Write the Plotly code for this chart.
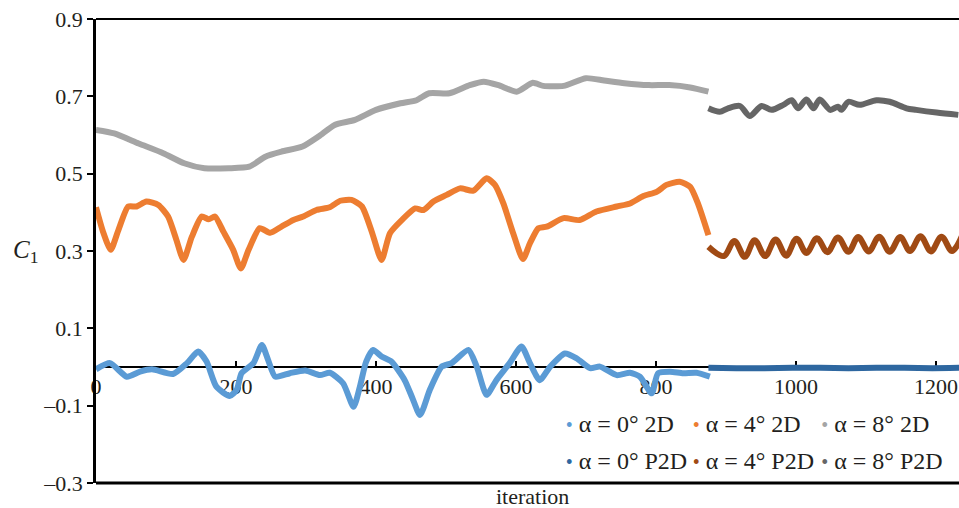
import plotly.graph_objects as go

# ---- series data: lift coefficient C1 versus iteration ----
it_0_2d = [0, 20, 44, 63, 80, 110, 130, 146, 158, 172, 191, 201, 208, 225,
           237, 246, 256, 277, 299, 320, 334, 353, 368, 377, 386, 396, 408,
           422, 441, 452, 463, 477, 494, 508, 532, 544, 558, 572, 591, 608,
           620, 634, 649, 670, 687, 706, 720, 744, 763, 777, 794, 803, 820,
           839, 858, 877]
c1_0_2d = [-0.006, 0.010, -0.025, -0.012, -0.006, -0.018, 0.010, 0.040, 0.014,
           -0.051, -0.075, -0.059, -0.016, 0.010, 0.057, 0.018, -0.025, -0.016,
           -0.009, -0.021, -0.015, -0.042, -0.103, -0.051, 0.014, 0.044, 0.027,
           0.014, -0.034, -0.080, -0.124, -0.059, 0.001, 0.010, 0.044, 0.001,
           -0.072, -0.034, 0.010, 0.053, 0.010, -0.034, 0.001, 0.035, 0.022,
           -0.003, 0.001, -0.021, -0.015, -0.025, -0.068, -0.016, -0.012,
           -0.016, -0.015, -0.025]

it_0_p2d = [875, 915, 955, 995, 1035, 1075, 1115, 1155, 1195, 1235]
c1_0_p2d = [-0.002, -0.003, -0.003, -0.002, -0.002, -0.003, -0.002, -0.002,
            -0.003, -0.002]

it_4_2d = [0, 10, 21, 32, 46, 58, 72, 89, 103, 115, 125, 137, 151, 161, 170,
           182, 196, 207, 218, 234, 249, 265, 282, 296, 315, 334, 349, 365,
           380, 394, 408, 420, 437, 456, 468, 482, 501, 520, 539, 558, 570,
           582, 596, 610, 620, 632, 644, 668, 691, 715, 744, 763, 782, 801,
           815, 834, 849, 860, 875]
c1_4_2d = [0.413, 0.350, 0.303, 0.354, 0.415, 0.415, 0.428, 0.419, 0.389,
           0.328, 0.277, 0.337, 0.389, 0.382, 0.389, 0.350, 0.303, 0.255,
           0.303, 0.359, 0.347, 0.363, 0.380, 0.389, 0.406, 0.413, 0.430,
           0.432, 0.415, 0.350, 0.277, 0.346, 0.380, 0.410, 0.406, 0.428,
           0.445, 0.462, 0.456, 0.488, 0.471, 0.423, 0.346, 0.279, 0.320,
           0.359, 0.363, 0.385, 0.380, 0.402, 0.415, 0.423, 0.442, 0.453,
           0.471, 0.479, 0.466, 0.423, 0.341]

it_4_p2d = [875, 897, 912, 927, 941, 956, 971, 986, 1001, 1015, 1030, 1045,
            1060, 1075, 1089, 1104, 1119, 1134, 1149, 1163, 1178, 1193, 1208,
            1223, 1237]
c1_4_p2d = [0.311, 0.287, 0.326, 0.285, 0.328, 0.287, 0.330, 0.288, 0.332,
            0.295, 0.333, 0.297, 0.335, 0.298, 0.336, 0.299, 0.337, 0.298,
            0.336, 0.300, 0.338, 0.299, 0.337, 0.300, 0.338]

it_8_2d = [0, 26, 61, 96, 126, 155, 190, 219, 242, 265, 295, 318, 341, 370,
           400, 435, 458, 476, 505, 534, 554, 575, 601, 624, 639, 668, 700,
           726, 755, 790, 819, 849, 875]
c1_8_2d = [0.613, 0.604, 0.578, 0.553, 0.527, 0.514, 0.514, 0.518, 0.544,
           0.557, 0.570, 0.596, 0.626, 0.639, 0.665, 0.682, 0.690, 0.708,
           0.708, 0.729, 0.738, 0.729, 0.712, 0.735, 0.727, 0.727, 0.747,
           0.741, 0.734, 0.729, 0.729, 0.723, 0.712]

it_8_p2d = [875, 891, 903, 920, 934, 951, 965, 982, 994, 1003, 1015, 1025,
            1034, 1049, 1060, 1065, 1075, 1091, 1115, 1134, 1158, 1172, 1201,
            1232]
c1_8_p2d = [0.669, 0.660, 0.669, 0.675, 0.649, 0.675, 0.665, 0.678, 0.690,
            0.669, 0.692, 0.669, 0.692, 0.665, 0.673, 0.665, 0.686, 0.678,
            0.690, 0.686, 0.669, 0.665, 0.658, 0.652]

x_ticks = [0, 200, 400, 600, 800, 1000, 1200]
y_ticks = [-0.3, -0.1, 0.1, 0.3, 0.5, 0.7, 0.9]
y_tick_text = ["\u20130.3", "\u20130.1", "0.1", "0.3", "0.5", "0.7", "0.9"]

series_names = ["\u03b1 = 0\u00b0 2D", "\u03b1 = 4\u00b0 2D", "\u03b1 = 8\u00b0 2D",
                "\u03b1 = 0\u00b0 P2D", "\u03b1 = 4\u00b0 P2D", "\u03b1 = 8\u00b0 P2D"]
series_x = [it_0_2d, it_4_2d, it_8_2d, it_0_p2d, it_4_p2d, it_8_p2d]
series_y = [c1_0_2d, c1_4_2d, c1_8_2d, c1_0_p2d, c1_4_p2d, c1_8_p2d]
series_colors = ["#5B9BD5", "#ED7D31", "#A5A5A5", "#2E67A0", "#A04A14", "#666666"]
series_smoothing = [0.6, 0.6, 0.6, 0.6, 1.0, 0.8]

FONT = "Liberation Serif, Times New Roman, serif"
TEXT_COLOR = "#231F20"

# legend grid: three columns, two rows (2D on top, P2D below)
legend_cols = [0.498, 0.645, 0.794]
legend_rows = [0.129, 0.050]

fig = go.Figure()
for name, xs, ys, color, sm in zip(series_names, series_x, series_y,
                                   series_colors, series_smoothing):
    fig.add_trace(go.Scatter(
        x=xs, y=ys, mode="lines", name=name, showlegend=False,
        line=dict(color=color, width=6, shape="spline", smoothing=sm),
    ))

legend_layouts = {}
for i, (name, color) in enumerate(zip(series_names, series_colors)):
    key = "legend" if i == 0 else f"legend{i + 1}"
    # legend entry: a small coloured dot set right against the label
    label = f"<span style='color:{color};font-size:20px'>\u2022</span> {name}"
    fig.add_trace(go.Scatter(
        x=[None], y=[None], mode="markers", name=label, legend=key,
        marker=dict(color="rgba(0,0,0,0)", size=1),
    ))
    legend_layouts[key] = dict(
        x=legend_cols[i % 3], y=legend_rows[i // 3],
        xanchor="left", yanchor="middle", orientation="h",
        font=dict(family=FONT, size=24, color=TEXT_COLOR),
        bgcolor="rgba(0,0,0,0)", itemwidth=30,
    )

fig.update_layout(
    width=959, height=508,
    margin=dict(l=96, r=0, t=19, b=25),
    paper_bgcolor="white", plot_bgcolor="white",
    font=dict(family=FONT, size=22, color=TEXT_COLOR),
    xaxis=dict(
        range=[0, 1233], tickvals=x_ticks,
        anchor="free", position=0.25, layer="below traces",
        showline=True, linecolor="black", linewidth=2,
        ticks="inside", ticklen=5, tickwidth=1.5, tickcolor="black",
        showgrid=False, zeroline=False,
        tickfont=dict(family=FONT, size=22, color=TEXT_COLOR),
    ),
    yaxis=dict(
        range=[-0.3, 0.9], tickvals=y_ticks, ticktext=y_tick_text,
        showline=True, linecolor="black", linewidth=2.5,
        ticks="outside", ticklen=6, tickwidth=2, tickcolor="black",
        showgrid=False, zeroline=False,
        tickfont=dict(family=FONT, size=22, color=TEXT_COLOR),
    ),
    shapes=[
        dict(type="line", xref="paper", yref="paper", x0=0, x1=1, y0=1, y1=1,
             line=dict(color="black", width=2)),
        dict(type="line", xref="paper", yref="paper", x0=0, x1=1, y0=0, y1=0,
             line=dict(color="black", width=3)),
    ],
    annotations=[
        dict(text="iteration", xref="paper", yref="paper", x=0.506, y=-0.030,
             xanchor="center", yanchor="middle", showarrow=False,
             font=dict(family=FONT, size=22, color=TEXT_COLOR)),
        dict(text="<i>C</i><sub>1</sub>", xref="paper", yref="paper",
             x=-0.082, y=0.50, xanchor="center", yanchor="middle",
             showarrow=False,
             font=dict(family=FONT, size=25, color=TEXT_COLOR)),
    ],
    **legend_layouts,
)

fig.write_html("out.html")
